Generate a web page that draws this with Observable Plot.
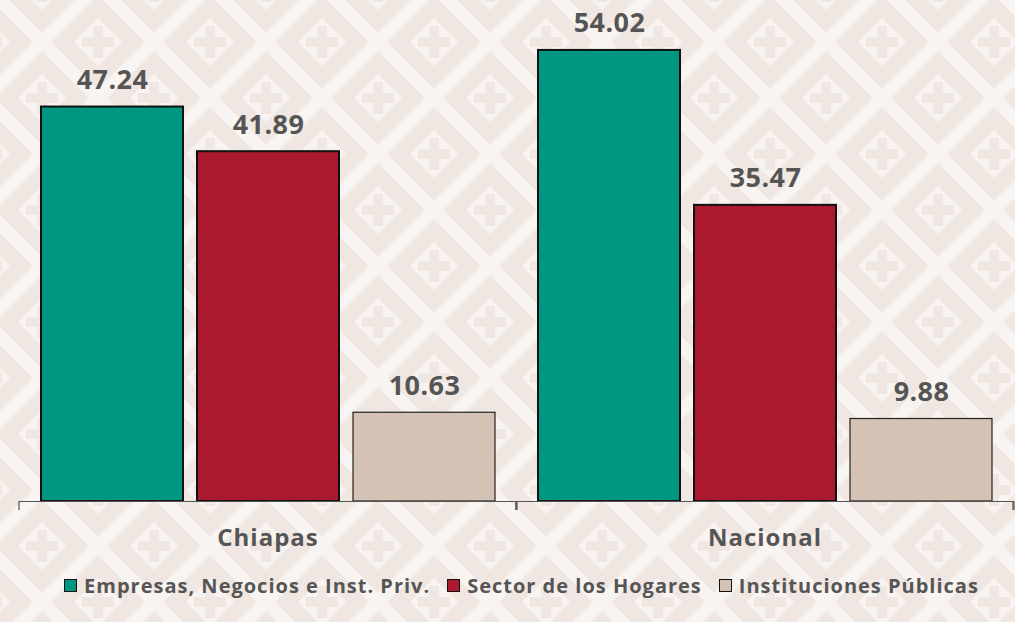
<!DOCTYPE html>
<html>
<head>
<meta charset="utf-8">
<script src="https://cdn.jsdelivr.net/npm/d3@7"></script>
<script src="https://cdn.jsdelivr.net/npm/@observablehq/plot@0.6"></script>
<style>
  html, body { margin: 0; padding: 0; }
  body {
    width: 1015px; height: 622px; overflow: hidden;
    font-family: "Open Sans", "Noto Sans", sans-serif;
    background-color: #f1e7e2;
  }
  #chart svg { display: block; background: transparent; }
  #chart g[aria-label="fx-axis tick label"] { letter-spacing: 1px; }
  #chart g[aria-label="text"] { letter-spacing: 0.4px; }
  #legend {
    display: flex; justify-content: center; align-items: center;
    gap: 17px; margin-top: 7px; margin-left: 28px;
    font-size: 20px; font-weight: 700; color: #555; letter-spacing: 1px;
  }
  .item { display: flex; align-items: center; gap: 7px; }
  .sw { width: 11px; height: 11px; border: 1.5px solid #111; display: inline-block; }
</style>
</head>
<body>
<div id="chart"></div>
<div id="legend"></div>
<script>
const groups = ["Chiapas", "Nacional"];
const series = ["Empresas, Negocios e Inst. Priv.", "Sector de los Hogares", "Instituciones Públicas"];
const colors = ["#009782", "#aa192e", "#d4c2b4"];
const strokeWidths = [2, 2, 1];
const chiapasValues = [47.24, 41.89, 10.63];
const nacionalValues = [54.02, 35.47, 9.88];

// background pattern
const light = "#f8f4f1";
const dark = "#f1e7e2";
function motif(cx, cy) {
  return `<path d="M${cx-24},${cy} L${cx},${cy-24} L${cx+24},${cy} L${cx},${cy+24} Z" fill="${light}"/>` +
    `<rect x="${cx-5}" y="${cy-16}" width="10" height="32" fill="${dark}"/>` +
    `<rect x="${cx-16}" y="${cy-5}" width="32" height="10" fill="${dark}"/>`;
}
let tile = `<svg xmlns="http://www.w3.org/2000/svg" width="112" height="112" viewBox="0 0 112 112">` +
  `<rect width="112" height="112" fill="${dark}"/>` +
  `<g stroke="${light}" stroke-width="13" stroke-linecap="square">` +
  `<line x1="-20" y1="76" x2="76" y2="-20"/><line x1="36" y1="132" x2="132" y2="36"/>` +
  `<line x1="36" y1="-20" x2="132" y2="76"/><line x1="-20" y1="36" x2="76" y2="132"/></g>` +
  [[0,0],[112,0],[0,112],[112,112],[56,56]].map(([x,y]) => motif(x,y)).join("") + `</svg>`;
document.body.style.backgroundImage = `url("data:image/svg+xml;utf8,${encodeURIComponent(tile)}")`;
document.body.style.backgroundPosition = "-14px 42px";

const data = [];
groups.forEach((g, gi) => {
  const vals = gi === 0 ? chiapasValues : nacionalValues;
  series.forEach((s, si) => data.push({group: g, series: s, value: vals[si], sw: strokeWidths[si]}));
});

const chart = Plot.plot({
  width: 1015,
  height: 565,
  marginLeft: 18,
  marginRight: 2,
  marginTop: 0,
  marginBottom: 64,
  style: {background: "transparent", fontFamily: "'Open Sans', 'Noto Sans', sans-serif"},
  fx: {domain: groups, padding: 0, label: null},
  x: {domain: series, paddingInner: 0.09, paddingOuter: 0.136, axis: null},
  y: {domain: [0, 60], axis: null},
  color: {domain: series, range: colors},
  marks: [
    Plot.barY(data.filter(d => d.sw === 2), {fx: "group", x: "series", y: "value", fill: "series", stroke: "#111", strokeWidth: 2}),
    Plot.barY(data.filter(d => d.sw === 1), {fx: "group", x: "series", y: "value", fill: "series", stroke: "#222", strokeWidth: 1.2}),
    Plot.text(data, {fx: "group", x: "series", y: "value", text: d => d.value.toFixed(2), lineAnchor: "bottom", dy: -18, fontSize: 27, fontWeight: 700, fill: "#555"}),
    Plot.ruleY([0], {stroke: "#555", strokeWidth: 1.2}),
    Plot.axisFx({anchor: "bottom", tickSize: 0, tickPadding: 27, fontSize: 24, fontWeight: 700, fill: "#555", label: null}),
    (index, scales, values, dims) => {
      const y0 = scales.y(0);
      const xs = [dims.marginLeft, ...groups.slice(1).map(g => scales.fx(g)), dims.width - dims.marginRight];
      const g = d3.create("svg:g").attr("stroke", "#555").attr("stroke-width", 1.2);
      xs.forEach(x => g.append("line").attr("x1", x).attr("x2", x).attr("y1", y0).attr("y2", y0 + 9));
      return g.node();
    }
  ]
});
document.getElementById("chart").append(chart);

const legend = document.getElementById("legend");
series.forEach((s, i) => {
  const it = document.createElement("div");
  it.className = "item";
  it.innerHTML = `<span class="sw" style="background:${colors[i]}"></span><span>${s}</span>`;
  legend.append(it);
});
</script>
</body>
</html>
